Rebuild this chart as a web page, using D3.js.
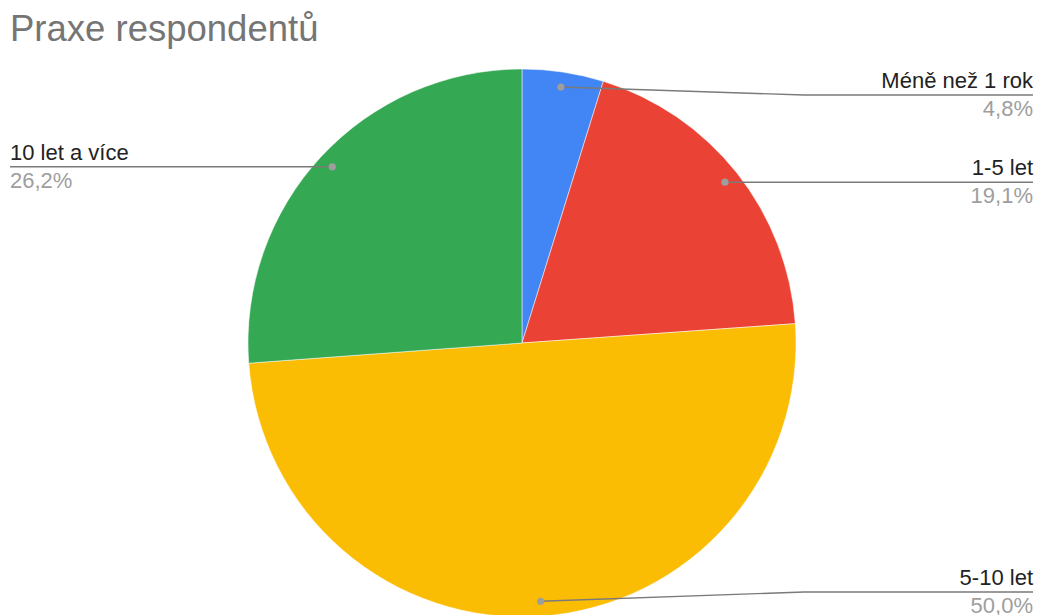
<!DOCTYPE html>
<html>
<head>
<meta charset="utf-8">
<script src="https://cdn.jsdelivr.net/npm/d3@7/dist/d3.min.js"></script>
<style>
  html, body { margin: 0; padding: 0; background: #fff; }
  svg { display: block; }
  text { font-family: "Liberation Sans", Arial, sans-serif; }
</style>
</head>
<body>
<svg id="chart" width="1037" height="615"></svg>
<script>
const title = "Praxe respondentů";
const categories = ["Méně než 1 rok", "1-5 let", "5-10 let", "10 let a více"];
const values = [4.8, 19.1, 50.0, 26.2];
const percentLabels = ["4,8%", "19,1%", "50,0%", "26,2%"];
const colors = ["#4285f4", "#ea4335", "#fbbc04", "#34a853"];

const W = 1037, H = 615;
const cx = 522, cy = 343, R = 274;
const svg = d3.select("#chart");

svg.append("text")
  .attr("x", 10).attr("y", 41)
  .attr("font-size", 36.5)
  .attr("fill", "#757575")
  .text(title);

const data = categories.map((c, i) => ({ name: c, value: values[i], pct: percentLabels[i], color: colors[i] }));
const pie = d3.pie().value(d => d.value).sort(null);
const arcs = pie(data);
const arc = d3.arc().innerRadius(0).outerRadius(R);
const dotArc = d3.arc().innerRadius(R * 0.945).outerRadius(R * 0.945);

const g = svg.append("g").attr("transform", `translate(${cx},${cy})`);
g.selectAll("path.slice").data(arcs).enter().append("path")
  .attr("class", "slice")
  .attr("d", arc)
  .attr("fill", d => d.data.color)
  .attr("stroke", "#fff").attr("stroke-width", 0.5);

const minLineY = 95, maxLineY = 592;
const rightX = W - 4, leftX = 10;
arcs.forEach(a => {
  const [dx, dy] = dotArc.centroid(a);
  const px = cx + dx, py = cy + dy;
  const right = (a.startAngle + a.endAngle) / 2 < Math.PI;
  const ly = Math.max(minLineY, Math.min(maxLineY, py));
  const kinkX = right ? cx + R + 8 : cx - R - 8;
  const endX = right ? rightX : leftX;
  const pts = Math.abs(ly - py) > 0.5 ? [[px, py], [kinkX, ly], [endX, ly]] : [[px, py], [endX, ly]];
  svg.append("path")
    .attr("d", d3.line()(pts))
    .attr("fill", "none")
    .attr("stroke", "#7a7a7a")
    .attr("stroke-width", 1.4);
  svg.append("circle")
    .attr("cx", px).attr("cy", py).attr("r", 3.6)
    .attr("fill", "#9e9e9e");
  const anchor = right ? "end" : "start";
  svg.append("text")
    .attr("x", endX).attr("y", ly - 7)
    .attr("text-anchor", anchor)
    .attr("font-size", 22)
    .attr("fill", "#222")
    .text(a.data.name);
  svg.append("text")
    .attr("x", endX).attr("y", ly + 21)
    .attr("text-anchor", anchor)
    .attr("font-size", 22)
    .attr("fill", "#9e9e9e")
    .text(a.data.pct);
});
</script>
</body>
</html>
